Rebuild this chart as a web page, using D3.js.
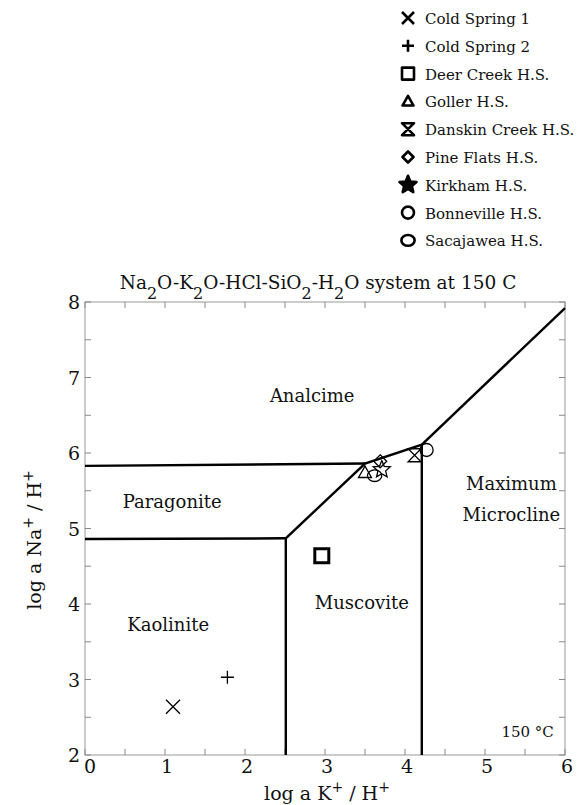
<!DOCTYPE html>
<html>
<head>
<meta charset="utf-8">
<script src="https://cdn.jsdelivr.net/npm/d3@7"></script>
<style>
  body { margin: 0; background: #fff; }
  svg text { font-family: "DejaVu Serif", "Noto Serif", "Liberation Serif", "Times New Roman", serif; fill: #111; }
</style>
</head>
<body>
<div id="chart"></div>
<script>
(function() {

  // ---- data ----
  var xTicks = [0, 1, 2, 3, 4, 5, 6];
  var yTicks = [2, 3, 4, 5, 6, 7, 8];
  var minorTicks = [0.5, 1.5, 2.5, 3.5, 4.5, 5.5];

  // phase boundaries, in log-activity units
  var boundaryLines = [
    [[0, 5.83], [3.5, 5.86]],
    [[0, 4.86], [2.51, 4.87]],
    [[2.51, 2], [2.51, 4.87], [3.5, 5.86], [4.21, 6.11], [6, 7.92]],
    [[4.21, 2], [4.21, 6.11]]
  ];

  var fieldNames = ['Analcime', 'Paragonite', 'Kaolinite', 'Muscovite', 'Maximum', 'Microcline'];
  var fieldX = [2.84, 1.09, 1.04, 3.46, 5.33, 5.33];
  var fieldY = [6.68, 5.27, 3.64, 3.93, 5.51, 5.1];

  var sampleNames = ['Cold Spring 1', 'Cold Spring 2', 'Deer Creek H.S.', 'Goller H.S.', 'Danskin Creek H.S.',
                     'Pine Flats H.S.', 'Kirkham H.S.', 'Bonneville H.S.', 'Sacajawea H.S.'];
  var sampleSymbols = ['x', 'plus', 'square', 'triangle', 'hourglass', 'diamond', 'star', 'circle', 'circle2'];
  var sampleX = [1.1, 1.78, 2.96, 3.5, 4.12, 3.69, 3.71, 4.27, 3.62];
  var sampleY = [2.64, 3.03, 4.64, 5.74, 5.97, 5.89, 5.78, 6.04, 5.7];

  var width = 587, height = 805;
  var margin = { top: 302, left: 85, right: 22, bottom: 50 };

  var svg = d3.select("#chart")
      .append("svg")
      .attr("width", width)
      .attr("height", height);

  var xScale = d3.scaleLinear().domain([0, 6]).range([margin.left, width - margin.right]);
  var yScale = d3.scaleLinear().domain([2, 8]).range([height - margin.bottom, margin.top]);

  // marker shapes, centred on 0,0
  function markerPath(type, s) {
    if (type === 'x') return 'M' + (-s) + ',' + (-s) + 'L' + s + ',' + s + 'M' + (-s) + ',' + s + 'L' + s + ',' + (-s);
    if (type === 'plus') return 'M' + (-s) + ',0H' + s + 'M0,' + (-s) + 'V' + s;
    if (type === 'square') return 'M' + (-s) + ',' + (-s) + 'H' + s + 'V' + s + 'H' + (-s) + 'Z';
    if (type === 'triangle') return 'M0,' + (-s) + 'L' + s + ',' + (s * 0.75) + 'H' + (-s) + 'Z';
    if (type === 'hourglass') return 'M' + (-s) + ',' + (-s) + 'H' + s + 'L' + (-s) + ',' + s + 'H' + s + 'Z';
    if (type === 'diamond') return 'M0,' + (-s) + 'L' + s + ',0L0,' + s + 'L' + (-s) + ',0Z';
    if (type === 'star') {
      var pts = [];
      for (var i = 0; i < 10; i++) {
        var r = i % 2 === 0 ? s : s * 0.45;
        var a = -Math.PI / 2 + i * Math.PI / 5;
        pts.push([r * Math.cos(a), r * Math.sin(a)]);
      }
      return 'M' + pts.join('L') + 'Z';
    }
    if (type === 'circle') return 'M' + (-s) + ',0A' + s + ',' + s + ' 0 1,0 ' + s + ',0A' + s + ',' + s + ' 0 1,0 ' + (-s) + ',0Z';
    if (type === 'circle2') {
      var rx = s * 1.1, ry = s * 0.9;
      return 'M' + (-rx) + ',0A' + rx + ',' + ry + ' 0 1,0 ' + rx + ',0A' + rx + ',' + ry + ' 0 1,0 ' + (-rx) + ',0Z';
    }
    return '';
  }

  // ---- frame and ticks ----
  var x0 = xScale(0), x1 = xScale(6), y0 = yScale(2), y1 = yScale(8);
  svg.append("rect")
    .attr("x", x0).attr("y", y1)
    .attr("width", x1 - x0).attr("height", y0 - y1)
    .attr("fill", "none")
    .attr("stroke", "#999")
    .attr("stroke-width", 1);

  var allX = xTicks.concat(minorTicks);
  var allY = yTicks.concat(minorTicks.map(function(d) { return d + 2; }));
  var tickLen = 6;

  svg.selectAll(".tick-b").data(allX).enter().append("line")
    .attr("x1", function(d) { return xScale(d); }).attr("x2", function(d) { return xScale(d); })
    .attr("y1", y0).attr("y2", y0 - tickLen)
    .attr("stroke", "#888");
  svg.selectAll(".tick-t").data(allX).enter().append("line")
    .attr("x1", function(d) { return xScale(d); }).attr("x2", function(d) { return xScale(d); })
    .attr("y1", y1).attr("y2", y1 + tickLen)
    .attr("stroke", "#888");
  svg.selectAll(".tick-l").data(allY).enter().append("line")
    .attr("y1", function(d) { return yScale(d); }).attr("y2", function(d) { return yScale(d); })
    .attr("x1", x0).attr("x2", x0 + tickLen)
    .attr("stroke", "#888");
  svg.selectAll(".tick-r").data(allY).enter().append("line")
    .attr("y1", function(d) { return yScale(d); }).attr("y2", function(d) { return yScale(d); })
    .attr("x1", x1).attr("x2", x1 - tickLen)
    .attr("stroke", "#888");

  svg.selectAll(".x-label").data(xTicks).enter().append("text")
    .attr("x", function(d) { return xScale(d) + (d === 0 ? 5 : 2); })
    .attr("y", y0 + 18)
    .attr("text-anchor", "middle")
    .attr("font-size", "19px")
    .text(function(d) { return d; });

  svg.selectAll(".y-label").data(yTicks).enter().append("text")
    .attr("x", x0 - 5)
    .attr("y", function(d) { return yScale(d) + 7; })
    .attr("text-anchor", "end")
    .attr("font-size", "19px")
    .text(function(d) { return d; });

  // axis titles
  var xt = svg.append("text")
    .attr("x", 327).attr("y", 800)
    .attr("text-anchor", "middle")
    .attr("font-size", "19px");
  xt.append("tspan").text("log a K");
  xt.append("tspan").attr("baseline-shift", "super").attr("font-size", "14px").text("+");
  xt.append("tspan").text(" / H");
  xt.append("tspan").attr("baseline-shift", "super").attr("font-size", "14px").text("+");

  var yt = svg.append("text")
    .attr("transform", "translate(41,540) rotate(-90)")
    .attr("text-anchor", "middle")
    .attr("font-size", "19px");
  yt.append("tspan").text("log a Na");
  yt.append("tspan").attr("baseline-shift", "super").attr("font-size", "14px").text("+");
  yt.append("tspan").text(" / H");
  yt.append("tspan").attr("baseline-shift", "super").attr("font-size", "14px").text("+");

  // title
  var title = svg.append("text")
    .attr("x", 318).attr("y", 289)
    .attr("text-anchor", "middle")
    .attr("font-size", "18.5px");
  var parts = [["Na", 0], ["2", 1], ["O-K", 0], ["2", 1], ["O-HCl-SiO", 0], ["2", 1], ["-H", 0], ["2", 1], ["O system at 150 C", 0]];
  parts.forEach(function(p) {
    var t = title.append("tspan").text(p[0]);
    if (p[1]) t.attr("baseline-shift", "sub").attr("font-size", "16px");
  });

  // ---- boundaries ----
  var line = d3.line()
    .x(function(d) { return xScale(d[0]); })
    .y(function(d) { return yScale(d[1]); });

  svg.selectAll(".boundary").data(boundaryLines).enter().append("path")
    .attr("class", "boundary")
    .attr("d", line)
    .attr("fill", "none")
    .attr("stroke", "#000")
    .attr("stroke-width", 2.4);

  // field names
  svg.selectAll(".field").data(fieldNames).enter().append("text")
    .attr("x", function(d, i) { return xScale(fieldX[i]); })
    .attr("y", function(d, i) { return yScale(fieldY[i]); })
    .attr("text-anchor", "middle")
    .attr("font-size", "18px")
    .text(function(d) { return d; });

  svg.append("text")
    .attr("x", xScale(5.86)).attr("y", yScale(2.24))
    .attr("text-anchor", "end")
    .attr("font-size", "15px")
    .text("150 \u00B0C");

  // ---- samples ----
  svg.selectAll(".sample").data(sampleNames).enter().append("path")
    .attr("class", "sample")
    .attr("transform", function(d, i) { return "translate(" + xScale(sampleX[i]) + "," + yScale(sampleY[i]) + ")"; })
    .attr("d", function(d, i) {
      var s = sampleSymbols[i];
      var size = s === 'square' ? 7 : s === 'star' ? 9 : s === 'x' ? 7 : 6.5;
      return markerPath(s, size);
    })
    .attr("fill", "none")
    .attr("stroke", "#000")
    .attr("stroke-width", function(d, i) { return sampleSymbols[i] === 'square' ? 3 : 1.3; });

  // ---- legend ----
  var legend = svg.selectAll(".legend").data(sampleNames).enter().append("g")
    .attr("class", "legend")
    .attr("transform", function(d, i) { return "translate(408," + (18 + i * 27.8) + ")"; });

  legend.append("path")
    .attr("d", function(d, i) {
      var s = sampleSymbols[i];
      var size = s === 'star' ? 9 : s === 'triangle' ? 5.5 : s === 'diamond' ? 5.5 : 6;
      return markerPath(s, size);
    })
    .attr("fill", function(d, i) { return sampleSymbols[i] === 'star' ? "#000" : "none"; })
    .attr("stroke", "#000")
    .attr("stroke-width", 2.6)
    .attr("stroke-linejoin", "round");

  legend.append("text")
    .attr("x", 17)
    .attr("y", 6)
    .attr("font-size", "15px")
    .text(function(d) { return d; });

})();
</script>
</body>
</html>
